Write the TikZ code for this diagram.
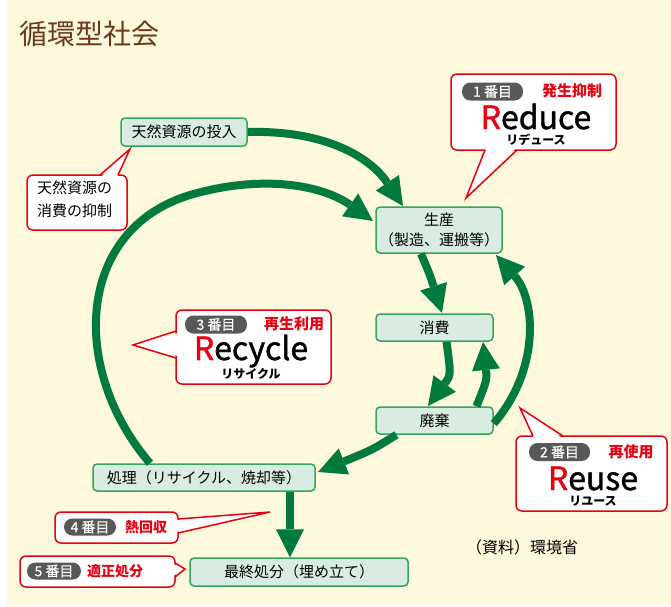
\documentclass[tikz,border=0pt]{standalone}
\usepackage{fontspec}
\setmainfont{Noto Sans CJK JP}
\newfontfamily\medfont[FakeBold=1.3]{Noto Sans CJK JP}
\newfontfamily\badgefont[FakeBold=0.8]{Noto Sans CJK JP}
\usetikzlibrary{arrows.meta}
\definecolor{bgyel}{HTML}{FEF9DC}
\definecolor{nodegreen}{HTML}{35A55E}
\definecolor{nodefill}{HTML}{D8ECE2}
\definecolor{flowgreen}{HTML}{007B3D}
\definecolor{callred}{HTML}{E60012}
\definecolor{badgegray}{HTML}{595757}
\definecolor{titlebrown}{HTML}{6B3A1E}
\begin{document}
\begin{tikzpicture}[x=1pt,y=-1pt,
  proc/.style={draw=nodegreen, line width=1.5pt, fill=nodefill, rounded corners=4pt, inner sep=0pt, font=\fontsize{15}{20}\selectfont, align=center},
  flow/.style={draw=flowgreen, line width=8pt, -{Triangle[width=28pt,length=28pt,line width=0pt]}},
  callout/.style={draw=callred, line width=1.5pt, fill=white, rounded corners=6pt, inner sep=0pt},
  ptr/.style={draw=callred, line width=1.5pt, line join=miter},
  badge/.style={fill=badgegray, rounded corners=8.5pt, text=white, font=\fontsize{14}{14}\badgefont, minimum height=18pt, inner sep=0pt},
  redlab/.style={text=callred, font=\fontsize{15}{15}\selectfont\bfseries, inner sep=0pt},
  bigword/.style={font=\fontsize{32}{32}\medfont, inner sep=0pt},
  kana/.style={font=\fontsize{12}{12}\selectfont\bfseries, inner sep=0pt}
]
\fill[white] (0,0) rectangle (671,606);
\fill[bgyel] (7,0) rectangle (671,606);
\useasboundingbox (0,0) rectangle (671,606);

% title
\node[anchor=west, text=titlebrown, font=\fontsize{28}{28}\selectfont, inner sep=0pt] (title) at (19,34) {循環型社会};

% process nodes
\node[proc, minimum width=126pt, minimum height=28pt] (input) at (184,132) {天然資源の投入};
\node[proc, minimum width=126pt, minimum height=46pt] (prod) at (439,230) {生産\\（製造、運搬等）};
\node[proc, minimum width=117pt, minimum height=27pt] (cons) at (434.5,327.5) {消費};
\node[proc, minimum width=117pt, minimum height=27pt] (waste) at (434.5,420.5) {廃棄};
\node[proc, minimum width=222pt, minimum height=27pt] (treat) at (204,477.5) {処理（リサイクル、焼却等）};
\node[proc, minimum width=218pt, minimum height=28pt] (final) at (299,572) {最終処分（埋め立て）};

% flow arrows
\draw[flow] (input.east) .. controls (330,130) and (372,160) .. (403,206);
\draw[flow] ([xshift=-54pt]treat.north) .. controls (70,370) and (75,230) .. (190,195) .. controls (262,174) and (322,185) .. (373,221);
\draw[flow] ([xshift=-18pt]prod.south) .. controls (430,275) .. (442,313);
\draw[flow] ([xshift=12pt]cons.south) .. controls (451,375) .. (428,406);
\draw[flow] ([xshift=42pt]waste.north) .. controls (487,380) .. (483,342);
\draw[flow] ([yshift=-3pt]waste.east) .. controls (540,370) and (536,300) .. (496,255);
\draw[flow] ([xshift=-38pt]waste.south) .. controls (372,450) .. (318,472);
\draw[flow] ([xshift=86pt]treat.south) -- ([xshift=-9pt]final.north);

% callout: resource consumption control
\node[callout, minimum width=100pt, minimum height=55pt] (ctrl) at (77,202.5) {};
\node[anchor=north west, align=left, font=\fontsize{15}{23}\selectfont, inner sep=0pt] (ctrltext) at (37,181) {天然資源の\\消費の抑制};
\coordinate (ctrlTip) at (130,149);
\fill[white] (101,177) -- (ctrlTip) -- (117,177) -- cycle;
\draw[ptr] (100,175) -- (ctrlTip) -- (118,175);

% callout: Reduce
\node[callout, minimum width=165pt, minimum height=76pt] (reduceBox) at (533.5,112) {};
\coordinate (reduceTip) at (466,198);
\fill[white] (486,148) -- (reduceTip) -- (516,148) -- cycle;
\draw[ptr] (485,150) -- (reduceTip) -- (517,150);
\node[badge, minimum width=61pt] (b1) at (492.5,91.5) {1 番目};
\node[redlab] (l1) at (572,91) {発生抑制};
\node[bigword] (w1) at (536,116.5) {\textcolor{callred}{R}educe};
\node[kana] (k1) at (536,140) {リデュース};

% callout: Recycle
\node[callout, minimum width=155pt, minimum height=74pt] (recycleBox) at (253.5,347) {};
\coordinate (recycleTip) at (133,345);
\fill[white] (178,333) -- (recycleTip) -- (178,356) -- cycle;
\draw[ptr] (176,331) -- (recycleTip) -- (176,358);
\node[badge, minimum width=62pt] (b3) at (216,324.5) {3 番目};
\node[redlab] (l3) at (294,324) {再生利用};
\node[bigword] (w3) at (251,351) {\textcolor{callred}{R}ecycle};
\node[kana] (k3) at (251,374) {リサイクル};

% callout: Reuse
\node[callout, minimum width=151pt, minimum height=75pt] (reuseBox) at (591.5,473.5) {};
\coordinate (reuseTip) at (520,408);
\fill[white] (534,438) -- (reuseTip) -- (562,438) -- cycle;
\draw[ptr] (533,436) -- (reuseTip) -- (563,436);
\node[badge, minimum width=61pt] (b2) at (559.5,452) {2 番目};
\node[redlab] (l2) at (631,452) {再使用};
\node[bigword] (w2) at (593,478.5) {\textcolor{callred}{R}euse};
\node[kana] (k2) at (593,501) {リユース};

% callout: 4
\node[callout, minimum width=123pt, minimum height=31pt] (heatBox) at (116.5,527.5) {};
\coordinate (heatTip) at (270,512);
\fill[white] (176,520) -- (heatTip) -- (176,532) -- cycle;
\draw[ptr] (178,519) -- (heatTip) -- (178,533);
\node[badge, minimum width=52pt, minimum height=17pt] (b4) at (90,527) {4 番目};
\node[redlab, font=\fontsize{14}{14}\selectfont\bfseries] (l4) at (146,527) {熱回収};

% callout: 5
\node[callout, minimum width=155pt, minimum height=31pt] (dispBox) at (97.5,571.5) {};
\coordinate (dispTip) at (185,569);
\fill[white] (173,564) -- (dispTip) -- (173,576) -- cycle;
\draw[ptr] (175,563) -- (dispTip) -- (175,577);
\node[badge, minimum width=54pt, minimum height=17pt] (b5) at (54,571) {5 番目};
\node[redlab, font=\fontsize{14}{14}\selectfont\bfseries] (l5) at (115,571) {適正処分};

% source
\node[font=\fontsize{16}{16}\selectfont, inner sep=0pt] (src) at (522,547) {（資料）環境省};
\end{tikzpicture}
\end{document}
